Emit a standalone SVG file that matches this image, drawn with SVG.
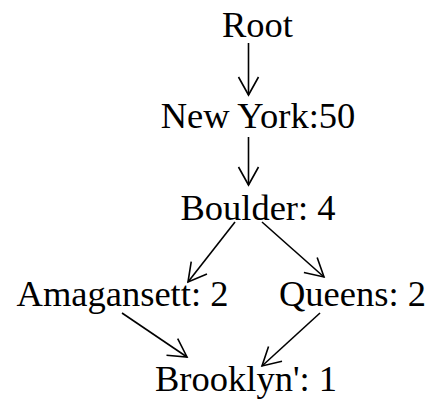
<svg xmlns="http://www.w3.org/2000/svg" width="430" height="401" viewBox="0 0 430 401">
<defs>
<style>
text{font-size:36.5px;fill:#000;text-anchor:middle}
.edge{stroke:#000;stroke-width:1.6;fill:none;marker-end:url(#arr)}
</style>
<marker id="arr" markerUnits="userSpaceOnUse" markerWidth="24" markerHeight="24" viewBox="-20 -12 24 24" refX="0" refY="0" orient="auto">
<path d="M-18,-10 L0,0 L-18,10" fill="none" stroke="#000" stroke-width="1.6"/>
</marker>
</defs>
<rect width="430" height="401" fill="#fff"/>
<g id="connectors">
<line class="edge" x1="248.5" y1="43" x2="248.5" y2="95"/>
<line class="edge" x1="248.5" y1="137" x2="248.5" y2="185"/>
<line class="edge" x1="235" y1="222" x2="188" y2="282"/>
<line class="edge" x1="262" y1="222" x2="324" y2="277"/>
<line class="edge" x1="122" y1="313" x2="187" y2="357"/>
<line class="edge" x1="320" y1="313" x2="262" y2="366"/>
</g>
<g font-family="'Liberation Serif', 'Times New Roman', 'DejaVu Serif', serif">
<g id="root"><text x="257.5" y="37">Root</text></g>
<g id="newyork"><text x="258" y="128">New York:50</text></g>
<g id="boulder"><text x="258" y="220">Boulder: 4</text></g>
<g id="amagansett"><text x="122.5" y="306">Amagansett: 2</text></g>
<g id="queens"><text x="352.5" y="306">Queens: 2</text></g>
<g id="brooklyn"><text x="246" y="391">Brooklyn': 1</text></g>
</g>
</svg>
